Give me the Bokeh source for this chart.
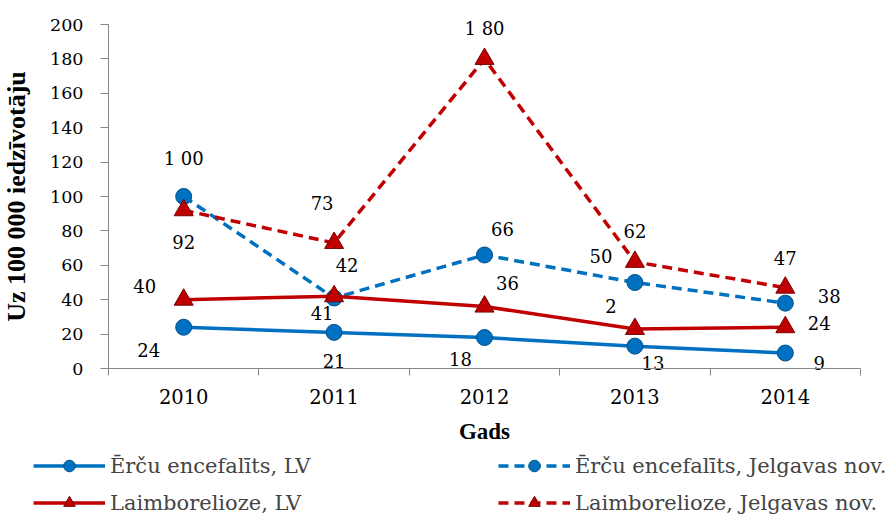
from bokeh.plotting import figure
from bokeh.models import ColumnDataSource, Legend, LegendItem, FixedTicker, Range1d, LinearAxis
from bokeh.core.properties import value
from bokeh.embed import file_html
from bokeh.resources import INLINE

years = [2010, 2011, 2012, 2013, 2014]
ee_lv = [24, 21, 18, 13, 9]
ee_jn = [100, 41, 66, 50, 38]
lb_lv = [40, 42, 36, 23, 24]
lb_jn = [92, 73, 180, 62, 47]

ee_lv_labels = ["24", "21", "18", "13", "9"]
ee_jn_labels = ["1 00", "41", "66", "50", "38"]
lb_lv_labels = ["40", "42", "36", "2", "24"]
lb_jn_labels = ["92", "73", "1 80", "62", "47"]

names = ["Ērču encefalīts, LV", "Ērču encefalīts, Jelgavas nov.",
         "Laimborelioze, LV", "Laimborelioze, Jelgavas nov."]
y_ticks = list(range(0, 201, 20))

# label offsets in screen pixels (dx, dy) per point
off_ee_lv = [(-35, 23), (0, 29), (-24, 21), (18, 17), (34, 10)]
off_ee_jn = [(0, -38), (-12, 15), (18, -26), (-34, -27), (44, -7)]
off_lb_lv = [(-39, -14), (13, -31), (23, -24), (-24, -23), (34, -4)]
off_lb_jn = [(0, 32), (-12, -40), (0, -30), (0, -31), (0, -30)]

BLUE = "#0070C0"
RED = "#C00000"
GRAY = "#868686"
SERIF = "DejaVu Serif"          # regular serif text
SERIF_B = "Liberation Serif"    # bold serif text

# pixel layout: plot area 108..860 horizontally, value 0 at y=368, 200 at y=24
W, H = 885, 514
X0, X1 = 108, 860
Y0, Y200 = 368, 24
pxu = (X1 - X0) / 5.0
pyu = (Y0 - Y200) / 200.0
x_start = 2009.5 - X0 / pxu
x_end = 2014.5 + (W - X1) / pxu
y_end = 200 + Y200 / pyu
y_start = -(H - Y0) / pyu

p = figure(width=W, height=H, output_backend="svg", toolbar_location=None,
           x_range=Range1d(x_start, x_end), y_range=Range1d(y_start, y_end),
           x_axis_location=None, y_axis_location=None, min_border=0)
p.outline_line_color = None
p.xgrid.visible = False
p.ygrid.visible = False

series = [
    (ee_lv, ee_lv_labels, off_ee_lv, BLUE, "solid", "circle", 16),
    (ee_jn, ee_jn_labels, off_ee_jn, BLUE, "10 6", "circle", 16),
    (lb_lv, lb_lv_labels, off_lb_lv, RED, "solid", "triangle", 19),
    (lb_jn, lb_jn_labels, off_lb_jn, RED, "10 6", "triangle", 19),
]

items = []
for (vals, labs, offs, col, dash, mk, sz), nm in zip(series, names):
    edge = "#7a0000" if col == RED else "#004f8a"
    src = ColumnDataSource(dict(x=years, y=vals, t=labs,
                                dx=[o[0] for o in offs], dy=[o[1] for o in offs]))
    ln = p.line("x", "y", source=src, line_color=col, line_width=3.5, line_dash=dash)
    sc = p.scatter("x", "y", source=src, marker=mk, size=sz, fill_color=col,
                   line_color=edge, line_width=1)
    p.text("x", "y", text="t", source=src, x_offset="dx", y_offset="dy",
           text_align="center", text_baseline="middle", text_font=value(SERIF),
           text_font_size="18px", text_color="black")
    items.append(LegendItem(label=nm, renderers=[ln, sc]))

yax = LinearAxis(fixed_location=2009.5, bounds=(0, 200), ticker=FixedTicker(ticks=y_ticks))
yax.axis_line_color = GRAY
yax.major_tick_line_color = GRAY
yax.major_tick_out = 8
yax.major_tick_in = 0
yax.minor_tick_line_color = None
yax.major_label_text_font = SERIF
yax.major_label_text_font_size = "17.5px"
yax.major_label_text_color = "black"
yax.major_label_standoff = 17
yax.axis_label = "Uz 100 000 iedzīvotāju"
yax.axis_label_text_font = SERIF_B
yax.axis_label_text_font_size = "26px"
yax.axis_label_text_font_style = "bold"
yax.axis_label_text_color = "black"
yax.axis_label_standoff = 16
p.add_layout(yax, "left")

xax = LinearAxis(fixed_location=0, bounds=(2009.5, 2014.5),
                 ticker=FixedTicker(ticks=years, minor_ticks=[2009.5, 2010.5, 2011.5, 2012.5, 2013.5, 2014.5]))
xax.axis_line_color = GRAY
xax.major_tick_line_color = None
xax.major_tick_out = 0
xax.minor_tick_line_color = GRAY
xax.minor_tick_out = 7
xax.minor_tick_in = 0
xax.major_label_text_font = SERIF
xax.major_label_text_font_size = "19.5px"
xax.major_label_text_color = "black"
xax.major_label_standoff = 13
xax.axis_label = "Gads"
xax.axis_label_text_font = SERIF_B
xax.axis_label_text_font_size = "23px"
xax.axis_label_text_font_style = "bold"
xax.axis_label_text_color = "black"
xax.axis_label_standoff = 12
p.add_layout(xax, "below")

common = dict(glyph_width=72, glyph_height=29, label_standoff=5,
              label_height=29, spacing=8, padding=0, margin=0,
              label_text_font=SERIF, label_text_font_size="21px",
              border_line_color=None, background_fill_alpha=0)
leg1 = Legend(items=[items[0], items[2]], location=(33, -3), **common)
leg2 = Legend(items=[items[1], items[3]], location=(498, -3), **common)
p.add_layout(leg1, "center")
p.add_layout(leg2, "center")

open("out.html", "w").write(file_html(p, INLINE))
